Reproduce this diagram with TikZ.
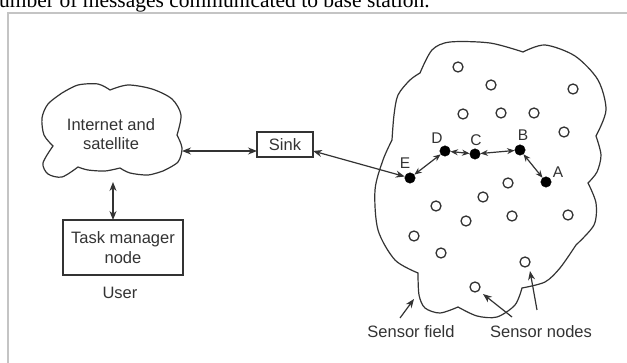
\documentclass[tikz,border=0pt]{standalone}
\usepackage{fontspec}
\setmainfont{Liberation Sans}
\newfontfamily\timesfont{Liberation Serif}
\usetikzlibrary{arrows.meta}
\definecolor{ink}{HTML}{333333}
\definecolor{framegray}{HTML}{C4C4C4}
\tikzset{
  ln/.style={draw=ink, line width=1.2pt},
  arr/.style={ln, -{Stealth[length=9pt,width=7pt]}},
  darr/.style={ln, {Stealth[length=9pt,width=7pt]}-{Stealth[length=9pt,width=7pt]}},
  sdarr/.style={ln, {Stealth[length=7.5pt,width=6pt]}-{Stealth[length=7.5pt,width=6pt]}},
  lbl/.style={text=ink, font=\fontsize{16.5}{19}\selectfont, inner sep=0pt},
  letter/.style={text=ink, font=\fontsize{15.5}{17}\selectfont, inner sep=0pt},
  box/.style={ln, inner sep=0pt, align=center, text=ink, font=\fontsize{16.5}{20}\selectfont},
  hop/.style={circle, fill=black, draw=black, minimum size=10.5pt, inner sep=0pt},
  sensor/.style={circle, draw=ink, line width=1.3pt, fill=white, minimum size=10pt, inner sep=0pt}
}
\begin{document}
\begin{tikzpicture}[x=1pt, y=-1pt]
\useasboundingbox (0,0) rectangle (627,363);
\clip (0,0) rectangle (627,363);
\fill[white] (0,0) rectangle (627,363);

% header line (cut off at the top, as in the reference)
\node[anchor=base west, inner sep=0pt, text=black, font=\timesfont\fontsize{21.5}{24}\selectfont] (hdr) at (-1,8) {umber of messages communicated to base station.};

% frame
\draw[framegray, line width=2pt] (8,370) -- (8,13) -- (640,13);

% Internet cloud
\draw[ln] plot[smooth] coordinates {(53,146) (44,135) (42,118) (48,104) (62,93)}
 -- plot[smooth] coordinates {(62,93) (78,85) (98,84) (110,90)}
 -- plot[smooth] coordinates {(110,90) (128,85) (152,89) (172,99) (181,115) (177,135)}
 -- plot[smooth] coordinates {(177,135) (182,148) (178,162) (163,171)}
 -- plot[smooth] coordinates {(163,171) (148,175) (130,173) (120,168)}
 -- plot[smooth] coordinates {(120,168) (105,171) (88,170) (78,167)}
 -- plot[smooth] coordinates {(78,167) (62,177) (48,174) (43,163) (53,146)} -- cycle;
\node[lbl, align=center] (inet) at (111,134) {Internet and\\satellite};
\coordinate (inetE) at (182,151);
\coordinate (inetS) at (113,182);

% Sink
\node[box, minimum width=56pt, minimum height=25pt] (sink) at (285,144.5) {Sink};
\coordinate (sinkW) at (257,151);
\coordinate (sinkE) at (313,151);

% Task manager
\node[box, minimum width=120pt, minimum height=55pt] (task) at (123,247.5) {Task manager\\node};
\coordinate (taskN) at (113,220);
\node[lbl] (user) at (120,293) {User};

% sensor field outline
\draw[ln] plot[smooth] coordinates {(420,73) (432,50) (450,42) (490,43) (523,52)}
 -- plot[smooth] coordinates {(523,52) (545,45) (575,56) (598,80) (606,110) (596,136)}
 -- plot[smooth] coordinates {(596,136) (601,155) (597,172) (588,183)}
 -- plot[smooth] coordinates {(588,183) (596,203) (594,225) (576,245)}
 -- plot[smooth] coordinates {(576,245) (560,268) (545,282) (522,288)}
 -- plot[smooth] coordinates {(522,288) (515,305) (497,317) (477,316) (458,307)}
 -- plot[smooth] coordinates {(458,307) (440,313) (425,308) (419,295) (418,273)}
 -- plot[smooth] coordinates {(418,273) (395,260) (378,230) (375,190) (383,160) (392,140)}
 -- plot[smooth] coordinates {(392,140) (394,115) (398,95) (410,80) (420,73)} -- cycle;

% sensor nodes
\foreach \p [count=\i] in {(458,67),(491,85),(573,89),(463,114),(501,113),(534,113),(564,132),(508,183),(483,197),(436,206),(466,221),(512,216),(568,215),(414,236),(441,253),(525,262),(475,287)}
  \node[sensor] (s\i) at \p {};

% hop nodes
\node[hop] (E) at (410,178) {};
\node[hop] (D) at (445,151) {};
\node[hop] (C) at (475,154) {};
\node[hop] (B) at (520,150) {};
\node[hop] (A) at (546,182) {};
\node[letter] (lE) at (405,163) {E};
\node[letter] (lD) at (437,138) {D};
\node[letter] (lC) at (476,140) {C};
\node[letter] (lB) at (523,135) {B};
\node[letter] (lA) at (558,172) {A};

% connectors
\draw[darr] (inetE) -- (sinkW);
\draw[darr] (inetS) -- (taskN);
\draw[darr] (sinkE) -- (E);
\draw[sdarr] (E) -- (D);
\draw[sdarr] (D) -- (C);
\draw[sdarr] (C) -- (B);
\draw[sdarr] (B) -- (A);

% labels
\node[lbl] (sf) at (411,332) {Sensor field};
\node[lbl] (sn) at (541,332) {Sensor nodes};
\coordinate (sfT) at (400,318);
\coordinate (sfH) at (414,299);
\draw[arr] (sfT) -- (sfH);
\coordinate (sn1T) at (512,317);
\coordinate (sn1H) at (483,294);
\draw[arr] (sn1T) -- (sn1H);
\coordinate (sn2T) at (537,310);
\coordinate (sn2H) at (530,271);
\draw[arr] (sn2T) -- (sn2H);
\end{tikzpicture}
\end{document}
